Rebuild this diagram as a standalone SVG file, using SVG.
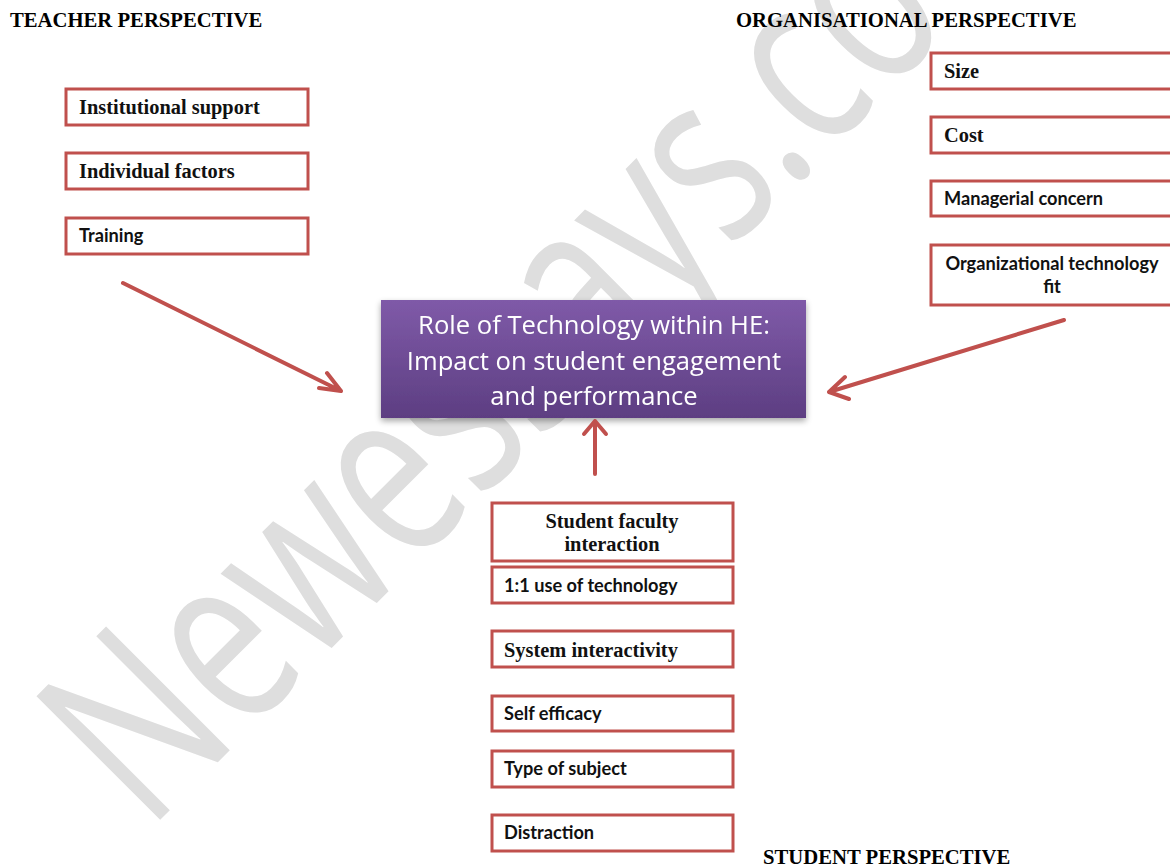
<svg xmlns="http://www.w3.org/2000/svg" width="1170" height="868" viewBox="0 0 1170 868">
<style>
.bg{fill:#ffffff}
.head{font-family:"Liberation Serif",serif;font-weight:bold;font-size:20.7px;fill:#000}
.box{fill:#ffffff;stroke:#c0504d;stroke-width:3}
.ts{font-family:"Liberation Serif",serif;font-weight:bold;font-size:20.4px;fill:#111}
.tc{font-family:"Lato","Open Sans",sans-serif;font-weight:bold;font-size:18.2px;fill:#111}
.ctr{font-family:"Open Sans","Lato",sans-serif;font-size:25.6px;fill:#ffffff}
.wm{font-family:"Open Sans",sans-serif;font-weight:normal;font-size:245px;fill:#dedede}
.conn{fill:none;stroke:#c0504d;stroke-width:4;stroke-linecap:round;stroke-linejoin:round}
</style>
<defs>
<linearGradient id="pg" x1="0" y1="0" x2="0" y2="1">
<stop offset="0" stop-color="#7f5aa8"/>
<stop offset="1" stop-color="#5d3e82"/>
</linearGradient>
<filter id="sh" x="-10%" y="-10%" width="120%" height="130%">
<feGaussianBlur in="SourceAlpha" stdDeviation="3"/>
<feOffset dx="0" dy="3" result="b"/>
<feComponentTransfer><feFuncA type="linear" slope="0.35"/></feComponentTransfer>
<feMerge><feMergeNode/><feMergeNode in="SourceGraphic"/></feMerge>
</filter>
</defs>
<rect class="bg" x="0" y="0" width="1170" height="868"/>
<text class="wm" transform="translate(148,832) rotate(-45) scale(0.72,1)">Newessays.co</text>

<text class="head" x="10" y="27">TEACHER PERSPECTIVE</text>
<text class="head" x="736" y="27">ORGANISATIONAL PERSPECTIVE</text>
<text class="head" x="763" y="864">STUDENT PERSPECTIVE</text>

<g id="n-institutional"><rect class="box" x="66" y="89" width="242" height="36"/><text class="ts" x="79" y="114">Institutional support</text></g>
<g id="n-individual"><rect class="box" x="66" y="153" width="242" height="36"/><text class="ts" x="79" y="178">Individual factors</text></g>
<g id="n-training"><rect class="box" x="66" y="218" width="242" height="36"/><text class="tc" x="79" y="242">Training</text></g>

<g id="n-size"><rect class="box" x="931" y="53" width="242" height="36"/><text class="ts" x="944" y="78">Size</text></g>
<g id="n-cost"><rect class="box" x="931" y="117" width="242" height="36"/><text class="ts" x="944" y="142">Cost</text></g>
<g id="n-managerial"><rect class="box" x="931" y="181" width="242" height="35"/><text class="tc" x="944" y="205">Managerial concern</text></g>
<g id="n-orgfit"><rect class="box" x="931" y="245" width="242" height="60"/><text class="tc" x="1052" y="270" text-anchor="middle">Organizational technology</text><text class="tc" x="1052" y="293" text-anchor="middle">fit</text></g>

<g id="n-center" filter="url(#sh)"><rect x="381" y="300" width="425" height="118" fill="url(#pg)"/>
<text class="ctr" x="594" y="334" text-anchor="middle">Role of Technology within HE:</text>
<text class="ctr" x="594" y="370" text-anchor="middle">Impact on student engagement</text>
<text class="ctr" x="594" y="405" text-anchor="middle">and performance</text></g>

<g id="n-sfi"><rect class="box" x="492" y="503" width="241" height="58"/><text class="ts" x="612" y="528" text-anchor="middle">Student faculty</text><text class="ts" x="612" y="551" text-anchor="middle">interaction</text></g>
<g id="n-oneone"><rect class="box" x="492" y="567" width="241" height="36"/><text class="tc" x="504" y="592">1:1 use of technology</text></g>
<g id="n-system"><rect class="box" x="492" y="631" width="241" height="36"/><text class="ts" x="504" y="657">System interactivity</text></g>
<g id="n-self"><rect class="box" x="492" y="696" width="241" height="35"/><text class="tc" x="504" y="720">Self efficacy</text></g>
<g id="n-type"><rect class="box" x="492" y="751" width="241" height="36"/><text class="tc" x="504" y="775">Type of subject</text></g>
<g id="n-distraction"><rect class="box" x="492" y="815" width="241" height="36"/><text class="tc" x="504" y="839">Distraction</text></g>

<g id="connectors">
<path class="conn" d="M123,283 L341,391 M319,388 L341,391 L327,373"/>
<path class="conn" d="M1064,320 L829,392 M849,399 L829,392 L845,377"/>
<path class="conn" d="M595,474 L595,421 M584,434 L595,421 L606,434"/>
</g>
</svg>
